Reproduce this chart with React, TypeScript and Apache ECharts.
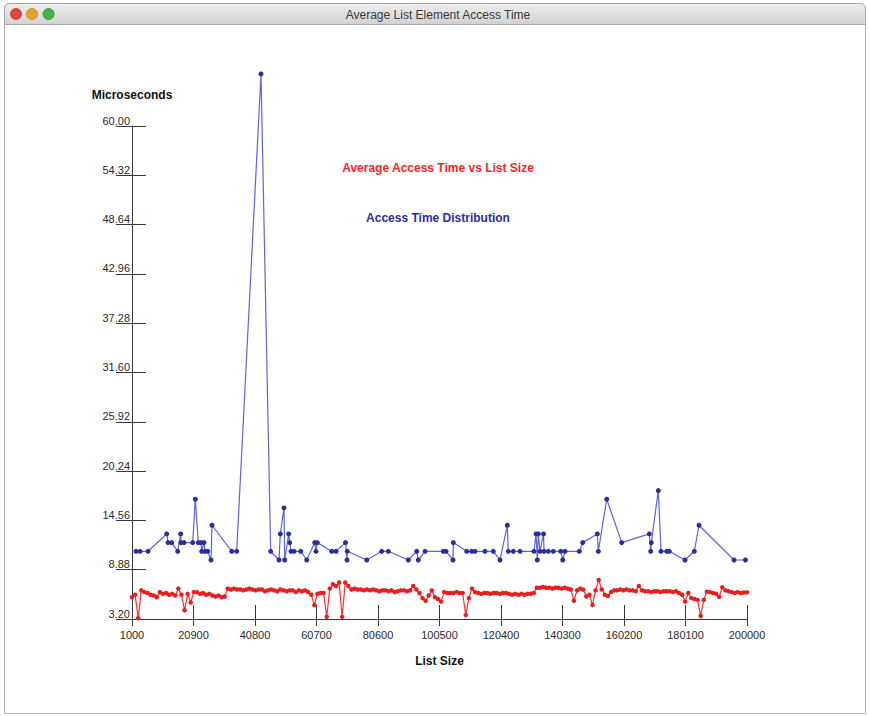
import React, { useEffect, useRef } from "react";
import * as echarts from "echarts";

// ---- Axis ticks ----
const xTickLabels = ["1000", "20900", "40800", "60700", "80600", "100500", "120400", "140300", "160200", "180100", "200000"];
const yTickLabels = ["3.20", "8.88", "14.56", "20.24", "25.92", "31.60", "37.28", "42.96", "48.64", "54.32", "60.00"];

// ---- Average access time vs list size (red) ----
// list sizes 1000, 2000, ... 200000 (one measurement per 1000 elements)
const redListSizes: number[] = Array.from({ length: 200 }, (_, i) => 1000 + i * 1000);
const redTimes: number[] = [
  5.7, 6.0, 3.3, 6.5, 6.3, 6.2, 6.0, 5.9, 5.7, 6.3,
  6.1, 6.2, 6.0, 6.1, 5.9, 6.7, 6.0, 4.2, 6.1, 5.1,
  6.3, 6.3, 6.1, 6.2, 6.0, 6.1, 5.9, 5.8, 5.9, 5.7,
  5.8, 6.7, 6.6, 6.7, 6.6, 6.6, 6.5, 6.6, 6.7, 6.6,
  6.5, 6.6, 6.6, 6.4, 6.5, 6.6, 6.5, 6.4, 6.6, 6.5,
  6.4, 6.5, 6.5, 6.3, 6.5, 6.4, 6.5, 6.3, 6.0, 4.8,
  6.1, 6.2, 6.2, 3.45, 6.7, 7.2, 7.0, 7.4, 3.45, 7.4,
  7.0, 6.6, 6.7, 6.6, 6.6, 6.5, 6.6, 6.5, 6.6, 6.5,
  6.4, 6.5, 6.5, 6.4, 6.5, 6.3, 6.4, 6.5, 6.5, 6.4,
  6.5, 7.0, 6.6, 6.2, 5.6, 5.3, 5.9, 6.5, 5.7, 5.5,
  5.2, 6.3, 6.2, 6.2, 6.2, 6.3, 6.2, 6.2, 3.65, 5.6,
  6.7, 6.3, 6.2, 6.1, 6.2, 6.2, 6.1, 6.2, 6.2, 6.1,
  6.2, 6.2, 6.1, 6.0, 6.1, 6.0, 6.1, 6.0, 6.1, 6.1,
  6.2, 6.8, 6.8, 6.9, 6.8, 6.8, 6.7, 6.8, 6.8, 6.7,
  6.8, 6.7, 6.6, 5.3, 6.5, 6.7, 6.6, 5.8, 6.0, 4.8,
  6.5, 7.7, 6.6, 6.0, 5.85, 6.3, 6.5, 6.5, 6.6, 6.5,
  6.6, 6.5, 6.5, 6.4, 7.0, 6.5, 6.4, 6.4, 6.3, 6.4,
  6.4, 6.3, 6.4, 6.4, 6.4, 6.3, 6.4, 6.2, 6.0, 5.2,
  6.2, 5.6, 5.5, 5.4, 3.55, 5.4, 6.35, 6.3, 6.2, 6.1,
  5.77, 6.85, 6.5, 6.4, 6.3, 6.2, 6.3, 6.2, 6.25, 6.27,
];

// ---- Access time distribution (blue) ----
const blueListSizes: number[] = [
  2300, 3600, 6200, 12230, 12650, 13850, 15790, 16760, 16820, 17830,
  20640, 21480, 22450, 23330, 23550, 24300, 24620, 25500, 26560, 26890,
  33260, 34880, 42740, 45870, 48570, 48990, 50190, 50410, 51700, 52030,
  52450, 53420, 55590, 57530, 60120, 60540, 60960, 65620, 67010, 70090,
  70570, 70670, 76950, 81800, 83940, 90410, 93130, 93640, 95810, 101730,
  102610, 104870, 104970, 109300, 110920, 111990, 115230, 117910, 120080, 122440,
  122770, 124380, 126550, 131080, 131730, 132150, 132470, 133020, 134160, 134320,
  135710, 137330, 139720, 140370, 141110, 145740, 146840, 151560, 151890, 154610,
  159460, 168390, 168840, 169040, 171300, 172180, 174020, 174860, 179940, 182950,
  184470, 195800, 199500,
];
const blueTimes: number[] = [
  11, 11, 11, 13, 12, 12, 11, 13, 12, 12,
  12, 17, 12, 12, 11, 12, 11, 11, 10, 14,
  11, 11, 66, 11, 10, 13, 16, 10, 13, 12,
  11, 11, 11, 10, 12, 11, 12, 11, 11, 12,
  10, 11, 10, 11, 11, 10, 11, 10, 11, 11,
  11, 10, 12, 11, 11, 11, 11, 11, 10, 14,
  11, 11, 11, 11, 13, 10, 13, 11, 13, 11,
  11, 11, 11, 10, 11, 11, 12, 13, 11, 17,
  12, 13, 11, 12, 18, 11, 11, 11, 10, 11,
  14, 10, 10,
];

const FONT = '"Liberation Sans", Arial, Helvetica, sans-serif';
const AXIS_COLOR = "#3a3a3a";
const LABEL_COLOR = "#2a2a2a";

export default function App() {
  const ref = useRef<HTMLDivElement>(null);

  useEffect(() => {
    document.body.style.margin = "0";
    if (!ref.current) return;
    const chart = echarts.init(ref.current, undefined, { renderer: "svg" });

    const xTicks = xTickLabels.map(Number);
    const yTicks = yTickLabels.map(Number);

    const option: any = {
      animation: false,
      backgroundColor: "#ffffff",
      grid: { left: 132, right: 122, top: 126, bottom: 97, containLabel: false, outerBoundsMode: "none" },
      xAxis: [
        {
          type: "value",
          min: 1000,
          max: 200000,
          position: "bottom",
          axisLine: { show: true, lineStyle: { color: AXIS_COLOR, width: 1 } },
          axisTick: { show: true, inside: false, length: 7, customValues: xTicks, lineStyle: { color: AXIS_COLOR, width: 1 } },
          axisLabel: {
            customValues: xTicks,
            formatter: (v: number) => String(Math.round(v)),
            margin: 10,
            fontSize: 11,
            fontFamily: FONT,
            color: LABEL_COLOR,
            showMinLabel: true,
            showMaxLabel: true,
          },
          splitLine: { show: false },
          name: "List Size",
          nameLocation: "middle",
          nameGap: 36,
          nameTextStyle: { fontSize: 12, fontWeight: "bold", fontFamily: FONT, color: "#111" },
        },
        {
          type: "value",
          min: 1000,
          max: 200000,
          position: "bottom",
          axisLine: { show: false },
          axisTick: { show: true, inside: true, length: 14, customValues: xTicks, lineStyle: { color: AXIS_COLOR, width: 1 } },
          axisLabel: { show: false },
          splitLine: { show: false },
        },
      ],
      yAxis: [
        {
          type: "value",
          min: 3.2,
          max: 60,
          position: "left",
          axisLine: { show: true, lineStyle: { color: AXIS_COLOR, width: 1 } },
          axisTick: { show: true, inside: false, length: 16, customValues: yTicks, lineStyle: { color: AXIS_COLOR, width: 1 } },
          axisLabel: {
            customValues: yTicks,
            formatter: (v: number) => v.toFixed(2),
            margin: 2,
            verticalAlign: "bottom",
            fontSize: 11,
            fontFamily: FONT,
            color: LABEL_COLOR,
            showMinLabel: true,
            showMaxLabel: true,
          },
          splitLine: { show: false },
          name: "Microseconds",
          nameLocation: "end",
          nameGap: 25,
          nameTextStyle: { fontSize: 12, fontWeight: "bold", fontFamily: FONT, color: "#111" },
        },
        {
          type: "value",
          min: 3.2,
          max: 60,
          position: "left",
          axisLine: { show: false },
          axisTick: { show: true, inside: true, length: 14, customValues: yTicks, lineStyle: { color: AXIS_COLOR, width: 1 } },
          axisLabel: { show: false },
          splitLine: { show: false },
        },
      ],
      graphic: [
        // window frame
        {
          type: "rect",
          shape: { x: 4.5, y: 3.5, width: 861, height: 710, r: [5, 5, 0, 0] },
          style: { fill: "none", stroke: "#b5b5b5", lineWidth: 1 },
          silent: true,
        },
        {
          type: "rect",
          shape: { x: 4.5, y: 3.5, width: 861, height: 21, r: [5, 5, 0, 0] },
          style: {
            fill: {
              type: "linear", x: 0, y: 0, x2: 0, y2: 1,
              colorStops: [
                { offset: 0, color: "#eeeeee" },
                { offset: 1, color: "#d1d1d1" },
              ],
            },
            stroke: "#a9a9a9",
            lineWidth: 1,
          },
          silent: true,
        },
        {
          type: "circle",
          shape: { cx: 16, cy: 14, r: 5.5 },
          style: { fill: "#e2463f", stroke: "#b23a33", lineWidth: 0.8 },
          silent: true,
        },
        {
          type: "circle",
          shape: { cx: 32, cy: 14, r: 5.5 },
          style: { fill: "#e6a22b", stroke: "#b98224", lineWidth: 0.8 },
          silent: true,
        },
        {
          type: "circle",
          shape: { cx: 48.5, cy: 14, r: 5.5 },
          style: { fill: "#3eb44a", stroke: "#2c8a36", lineWidth: 0.8 },
          silent: true,
        },
        {
          type: "text",
          style: {
            text: "Average List Element Access Time",
            x: 438,
            y: 15,
            align: "center",
            verticalAlign: "middle",
            fontSize: 12,
            fontFamily: FONT,
            fill: "#3a3a3a",
          },
          silent: true,
        },
        // series captions
        {
          type: "text",
          style: {
            text: "Average Access Time vs List Size",
            x: 438,
            y: 168,
            align: "center",
            verticalAlign: "middle",
            fontSize: 12,
            fontWeight: "bold",
            fontFamily: FONT,
            fill: "#f5262b",
          },
          silent: true,
        },
        {
          type: "text",
          style: {
            text: "Access Time Distribution",
            x: 438,
            y: 218,
            align: "center",
            verticalAlign: "middle",
            fontSize: 12,
            fontWeight: "bold",
            fontFamily: FONT,
            fill: "#2e2e9e",
          },
          silent: true,
        },
      ],
      series: [
        {
          name: "Average Access Time vs List Size",
          type: "line",
          xAxisIndex: 0,
          yAxisIndex: 0,
          data: redListSizes.map((s, i) => [s, redTimes[i]]),
          symbol: "circle",
          symbolSize: 4.5,
          showSymbol: true,
          lineStyle: { color: "#ff3030", width: 1.2 },
          itemStyle: { color: "#e81e1e" },
          emphasis: { disabled: true },
          z: 3,
        },
        {
          name: "Access Time Distribution",
          type: "line",
          xAxisIndex: 0,
          yAxisIndex: 0,
          data: blueListSizes.map((s, i) => [s, blueTimes[i]]),
          symbol: "circle",
          symbolSize: 5,
          showSymbol: true,
          clip: false,
          lineStyle: { color: "#6262da", width: 1.2 },
          itemStyle: { color: "#2c2c9c" },
          emphasis: { disabled: true },
          z: 3,
        },
      ],
    };

    chart.setOption(option);
    return () => {
      chart.dispose();
    };
  }, []);

  return <div ref={ref} style={{ width: 869, height: 716 }} />;
}
